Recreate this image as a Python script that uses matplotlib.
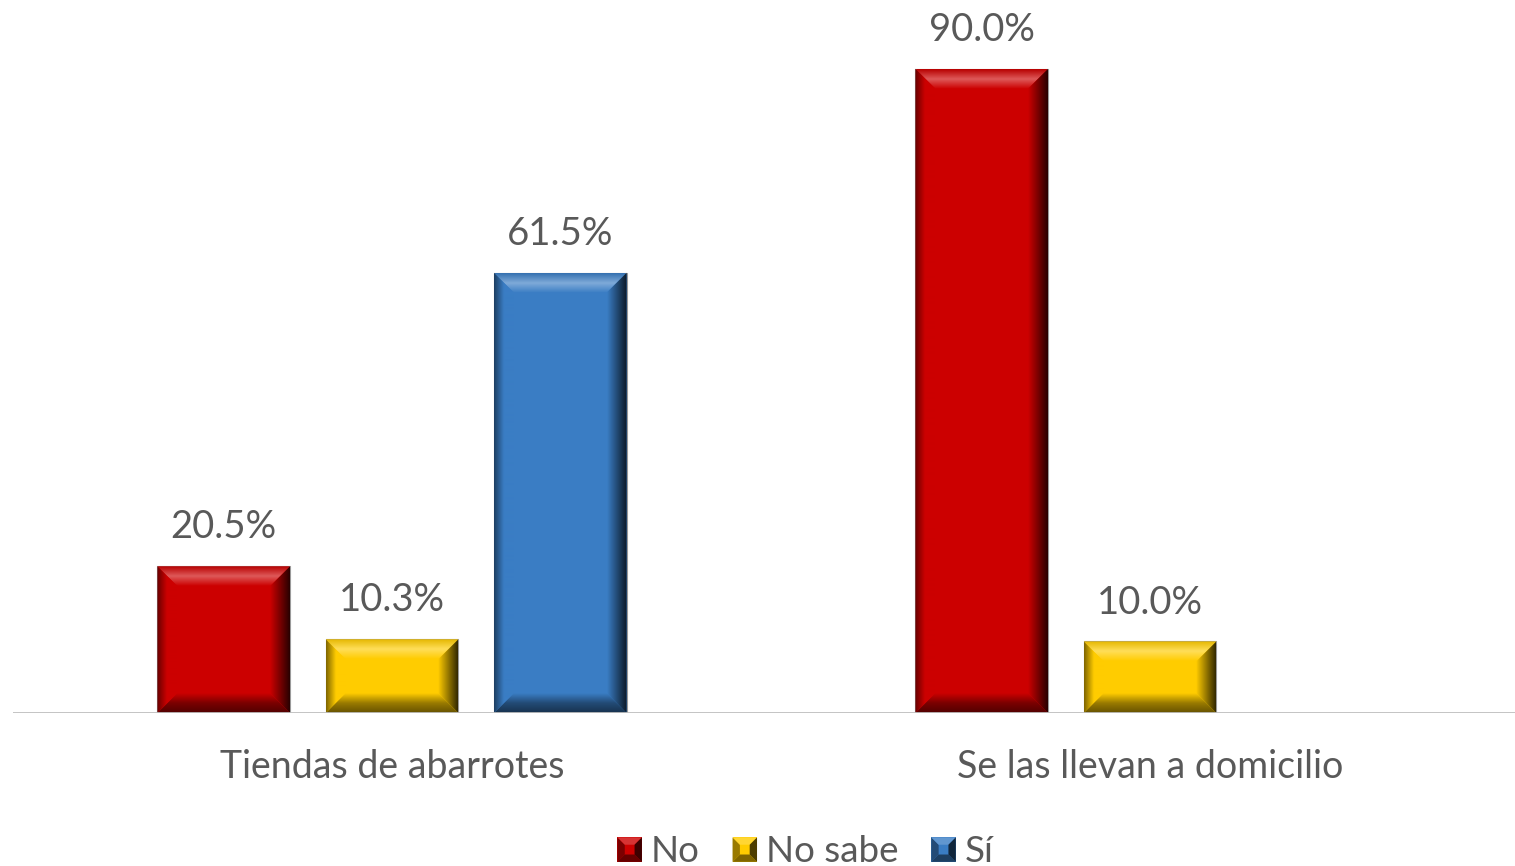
import numpy as np
import matplotlib
matplotlib.use("Agg")
import matplotlib.pyplot as plt
from matplotlib.patches import Polygon, Rectangle
from matplotlib.legend_handler import HandlerBase
from matplotlib.colors import to_rgb

categories = ["Tiendas de abarrotes", "Se las llevan a domicilio"]
series = ["No", "No sabe", "Sí"]
values_no = [20.5, 90.0]
values_nosabe = [10.3, 10.0]
values_si = [61.5, None]
colors = ["#CC0000", "#FFCC00", "#3A7DC4"]

plt.rcParams['font.family'] = ['Lato', 'DejaVu Sans']
text_color = "#595959"

W, H = 1515, 866
fig = plt.figure(figsize=(W / 100, H / 100), dpi=100)
fig.patch.set_facecolor("white")
ax = fig.add_axes([13 / W, 153 / H, 1516 / W, 680 / H])
ax.set_facecolor("none")

x = np.arange(len(categories))
width = 0.175
step = 0.222


def mix(c, other, t):
    c = np.array(to_rgb(c))
    o = np.array(to_rgb(other))
    return c * (1 - t) + o * t


def band(ax, poly, extent, stops, vertical):
    # gradient image clipped to a trapezoid
    n = 60
    t = np.linspace(0, 1, n)
    cols = np.array(stops)
    pos = np.linspace(0, 1, len(stops))
    rgb = np.stack([np.interp(t, pos, cols[:, k]) for k in range(3)], axis=-1)
    if vertical:
        img = rgb[:, None, :]
    else:
        img = rgb[None, :, :]
    p = Polygon(poly, closed=True, transform=ax.transData, facecolor="none", edgecolor="none")
    ax.add_patch(p)
    im = ax.imshow(img, extent=extent, origin="upper", aspect="auto",
                   interpolation="bilinear", zorder=3)
    im.set_clip_path(p)


def bevel_bar(ax, x0, x1, y0, y1, base, bx, by):
    main = to_rgb(base)
    light = mix(base, "white", 0.35)
    dark = mix(base, "black", 0.8)
    mid_dark = mix(base, "black", 0.4)
    ax.add_patch(Rectangle((x0, y0), x1 - x0, y1 - y0, facecolor=base,
                           edgecolor="#9a9a9a", linewidth=0.8, zorder=2))
    byb = min(by, (y1 - y0) / 2)
    byt = min(by, (y1 - y0) / 2)
    # top
    band(ax, [(x0, y1), (x1, y1), (x1 - bx, y1 - byt), (x0 + bx, y1 - byt)],
         (x0, x1, y1 - byt, y1), [mix(base, "black", 0.1), light, main], True)
    # bottom
    band(ax, [(x0, y0), (x1, y0), (x1 - bx, y0 + byb), (x0 + bx, y0 + byb)],
         (x0, x1, y0, y0 + byb), [main, mid_dark, mix(base, "black", 0.6)], True)
    # left
    band(ax, [(x0, y0), (x0, y1), (x0 + bx, y1 - byt), (x0 + bx, y0 + byb)],
         (x0, x0 + bx, y0, y1), [mix(base, "black", 0.5), main, main], False)
    # right
    band(ax, [(x1, y0), (x1, y1), (x1 - bx, y1 - byt), (x1 - bx, y0 + byb)],
         (x1 - bx, x1, y0, y1), [main, mid_dark, dark], False)


ax.set_xlim(-0.5, 1.5)
ax.set_ylim(0, 95)
fig.canvas.draw()
inv = ax.transData.inverted()
p0 = inv.transform((0, 0))
p1 = inv.transform((20, 20))
bx, by = p1[0] - p0[0], p1[1] - p0[1]

all_vals = [values_no, values_nosabe, values_si]
for i, vals in enumerate(all_vals):
    for j, v in enumerate(vals):
        if v is None:
            continue
        cx = x[j] + (i - 1) * step
        bevel_bar(ax, cx - width / 2, cx + width / 2, 0, v, colors[i], bx, by)
        ax.annotate(f"{v:.1f}%", (cx, v), xytext=(0, 15), textcoords="offset points",
                    ha="center", va="bottom", fontsize=27.5, color=text_color)

ax.set_xlim(-0.5, 1.5)
ax.set_ylim(0, 95)
ax.axhline(0, color="#BFBFBF", linewidth=2, zorder=4)
for s in ax.spines.values():
    s.set_visible(False)
ax.set_yticks([])
ax.set_xticks(x)
ax.set_xticklabels(categories, fontsize=27, color=text_color)
ax.tick_params(axis="x", length=0, pad=26)


class BevelHandler(HandlerBase):
    def create_artists(self, legend, orig_handle, xdescent, ydescent, width, height, fontsize, trans):
        s = min(width, height) * 0.95
        x0 = xdescent + width - s
        y0 = -ydescent + (height - s) / 2
        base = orig_handle.get_facecolor()
        r = Rectangle((x0, y0), s, s, facecolor=base, edgecolor="none", transform=trans)
        b = s * 0.3
        dark = mix(base[:3], "black", 0.7)
        rt = Polygon([(x0 + s, y0), (x0 + s, y0 + s), (x0 + s - b, y0 + s - b), (x0 + s - b, y0 + b)],
                     facecolor=dark, edgecolor="none", transform=trans)
        lf = Polygon([(x0, y0), (x0, y0 + s), (x0 + b, y0 + s - b), (x0 + b, y0 + b)],
                     facecolor=mix(base[:3], "black", 0.4), edgecolor="none", transform=trans)
        bt = Polygon([(x0, y0), (x0 + s, y0), (x0 + s - b, y0 + b), (x0 + b, y0 + b)],
                     facecolor=mix(base[:3], "black", 0.5), edgecolor="none", transform=trans)
        tp = Polygon([(x0, y0 + s), (x0 + s, y0 + s), (x0 + s - b, y0 + s - b), (x0 + b, y0 + s - b)],
                     facecolor=mix(base[:3], "white", 0.2), edgecolor="none", transform=trans)
        return [r, lf, bt, tp, rt]


handles = [Rectangle((0, 0), 1, 1, facecolor=c) for c in colors]
fig.legend(handles, series, loc="center", bbox_to_anchor=(805 / W, 14 / H), ncol=3,
           frameon=False, fontsize=26.5, labelcolor=text_color, handlelength=0.7,
           handletextpad=0.25, columnspacing=0.85,
           handler_map={Rectangle: BevelHandler()})

fig.savefig("out.png", dpi=100)
